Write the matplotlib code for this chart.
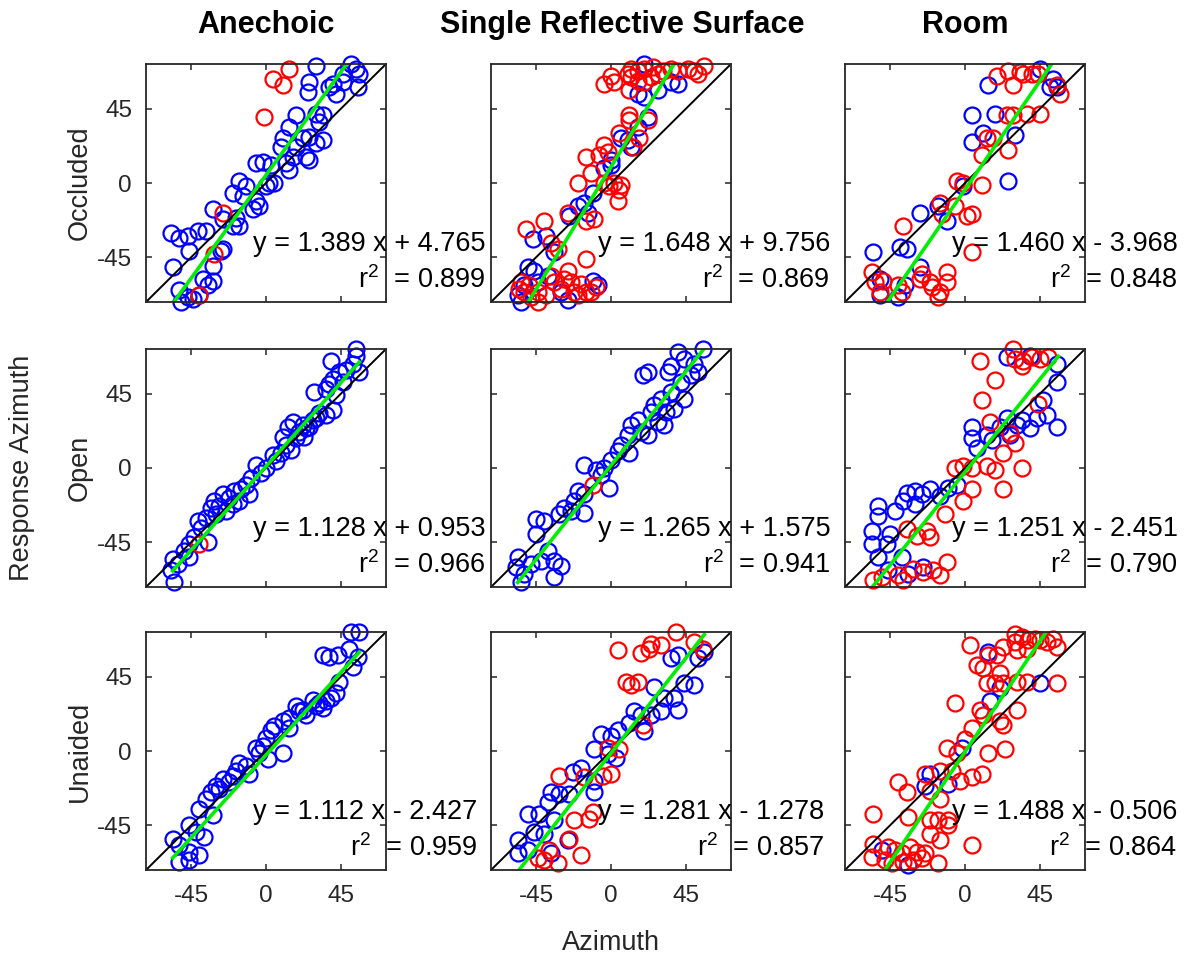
import numpy as np
import matplotlib
matplotlib.use("Agg")
import matplotlib.pyplot as plt

plt.rcParams['font.family'] = ['Liberation Sans', 'DejaVu Sans']
plt.rcParams['mathtext.fontset'] = 'custom'
plt.rcParams['mathtext.rm'] = 'Liberation Sans'
plt.rcParams['mathtext.it'] = 'Liberation Sans:italic'
plt.rcParams['axes.unicode_minus'] = False

# column / row names
rooms = ["Anechoic", "Single Reflective Surface", "Room"]
conditions = ["Occluded", "Open", "Unaided"]

# (target azimuth, response azimuth) pairs; blue and red trials per panel
anech_occl_blue = [(30, 71), (51, 72), (54, 69), (56, 66), (46, 66), (40, 60), (38, 58), (46, 61), (55, 58),
                   (26, 61), (25, 55), (42, 54), (18, 41), (30, 42), (34, 41), (32, 37), (14, 34), (10, 27),
                   (9, 22), (22, 27), (26, 28), (34, 26), (30, 24), (18, 22), (16, 16), (24, 16), (26, 14),
                   (12, 12), (14, 8), (-6, 12), (-2, 13), (3, 11), (5, 0), (0, -2), (2, 0), (-16, 1), (-20, -6),
                   (-12, -2), (-14, -8), (-6, -11), (-4, -14), (-8, -16), (-32, -16), (-18, -21), (-20, -26),
                   (-16, -26), (-26, -22), (-57, -30), (-52, -33), (-47, -32), (-46, -41), (-41, -29), (-36, -29),
                   (-27, -41), (-26, -40), (-56, -51), (-32, -50), (-38, -58), (-32, -59), (-35, -62), (-52, -65),
                   (-47, -69), (-51, -72), (-44, -70), (-40, -68)]
anech_occl_red = [(14, 69), (4, 63), (10, 59), (-1, 40), (-26, -18), (-31, -43), (-40, -68)]

refl_occl_blue = [(20, 72), (40, 60), (36, 61), (16, 54), (20, 52), (28, 56), (22, 40), (16, 34), (10, 26), (6, 27),
                  (12, 22), (0, 14), (-4, 9), (0, 11), (-11, -6), (-20, -14), (-16, -12), (-25, -20), (-14, -18),
                  (-39, -32), (-47, -34), (-34, -42), (-50, -51), (-46, -53), (-56, -68), (-54, -72), (-26, -71),
                  (-11, -59), (-8, -62), (-38, -56), (-52, -62), (-30, -66), (-44, -60)]
refl_occl_red = [(0, 65), (-4, 60), (2, 61), (10, 66), (12, 69), (16, 68), (20, 69), (25, 70), (28, 66), (16, 62),
                 (20, 61), (24, 64), (31, 68), (36, 69), (40, 68), (46, 69), (50, 68), (52, 66), (56, 71), (11, 56),
                 (12, 64), (11, 41), (11, 38), (22, 38), (5, 30), (17, 27), (13, 22), (-4, 23), (-2, 19), (-15, 16),
                 (-7, 17), (-12, 6), (-20, 0), (-4, 0), (2, 0), (6, -1), (5, -4), (-1, -2), (4, -11), (-10, -22),
                 (-15, -23), (-26, -18), (-51, -28), (-40, -23), (-36, -36), (-32, -40), (-15, -46), (-54, -60),
                 (-55, -64), (-49, -62), (-44, -66), (-39, -68), (-44, -72), (-34, -60), (-30, -64), (-26, -53),
                 (-24, -60), (-22, -66), (-18, -61), (-15, -66), (-20, -68), (-9, -63), (-36, -56), (-48, -69),
                 (-52, -66), (-28, -58), (-12, -66)]

room_occl_blue = [(45, 69), (53, 63), (55, 58), (51, 58), (14, 59), (4, 41), (18, 42), (11, 30), (30, 29), (4, 25),
                  (26, 1), (-1, -2), (-27, -18), (-16, -14), (-11, -23), (-39, -39), (-35, -40), (-55, -42),
                  (-27, -51), (-51, -58), (-51, -68), (-40, -69), (-36, -62)]
room_occl_red = [(19, 65), (26, 68), (35, 66), (40, 66), (44, 66), (29, 59), (33, 67), (55, 59), (57, 54), (45, 42),
                 (37, 42), (25, 41), (29, 41), (13, 27), (17, 27), (26, 20), (10, 17), (-5, 1), (-1, 0), (10, -1),
                 (-15, -12), (-6, -14), (1, -20), (4, -19), (-14, -19), (-37, -26), (4, -42), (-56, -54), (-54, -60),
                 (-49, -59), (-51, -66), (-40, -62), (-38, -66), (-27, -58), (-21, -60), (-20, -63), (-15, -66),
                 (-16, -69), (-11, -54), (-11, -60), (-26, -55)]

anech_open_blue = [(54, 72), (54, 68), (39, 65), (52, 63), (44, 58), (48, 59), (40, 54), (38, 51), (29, 46), (36, 48),
                   (56, 58), (40, 35), (36, 32), (32, 33), (28, 29), (16, 28), (13, 25), (22, 26), (26, 25), (20, 22),
                   (10, 19), (18, 18), (23, 19), (12, 14), (15, 11), (4, 8), (9, 9), (-6, 2), (-3, -3), (-9, -6),
                   (-12, -10), (-15, -13), (-19, -14), (-10, -16), (-16, -20), (-26, -16), (-22, -18), (-31, -20),
                   (-33, -24), (-28, -23), (-24, -26), (-30, -28), (-41, -32), (-39, -36), (-43, -42), (-35, -45),
                   (-46, -46), (-49, -50), (-56, -55), (-53, -58), (-46, -54), (-57, -62), (-55, -69),
                   (46, 52), (42, 44), (30, 30), (24, 24), (6, 4), (0, 0), (-20, -22), (-36, -30)]
anech_open_red = [(-40, -46)]

refl_open_blue = [(55, 72), (40, 70), (44, 66), (50, 63), (36, 62), (34, 58), (52, 58), (22, 58), (19, 56), (42, 52),
                  (44, 42), (36, 46), (30, 42), (38, 36), (33, 34), (24, 34), (28, 28), (32, 26), (16, 29), (12, 26),
                  (10, 20), (18, 22), (22, 20), (4, 10), (0, 5), (11, 9), (-16, 2), (-4, 0), (-9, -1), (-1, -12),
                  (-20, -14), (-16, -16), (-28, -24), (-31, -28), (-24, -26), (-16, -27), (-45, -31), (-40, -32),
                  (-45, -40), (-38, -50), (-34, -56), (-30, -59), (-56, -54), (-57, -60), (-52, -64), (-54, -69),
                  (-34, -66), (-42, -56), (48, 56), (26, 38), (6, 14), (-6, -4), (-22, -20), (-48, -58)]
refl_open_red = [(-11, -10)]

room_open_blue = [(25, 67), (39, 68), (55, 63), (55, 52), (47, 41), (49, 32), (55, 25), (39, 24), (43, 30), (34, 29),
                  (31, 26), (25, 30), (21, 25), (27, 20), (13, 20), (16, 17), (4, 25), (4, 18), (7, 12), (-5, -10),
                  (-21, -13), (-26, -16), (-35, -15), (-37, -20), (-30, -22), (-15, -17), (-42, -26), (-52, -23),
                  (-52, -29), (-56, -38), (-45, -40), (-56, -46), (-47, -46), (-52, -54), (-38, -54), (-25, -60),
                  (-46, -62), (-34, -64), (-10, -12), (-30, -14)]
room_open_red = [(29, 72), (30, 66), (35, 65), (40, 67), (45, 66), (50, 67), (34, 62), (9, 65), (18, 53), (10, 41),
                 (44, 39), (15, 28), (27, 21), (23, 9), (30, 15), (-6, 0), (-1, 1), (4, 0), (13, 1), (18, -1), (34, 0),
                 (23, -13), (4, -13), (-1, -20), (-12, -28), (-23, -38), (-21, -42), (-35, -37), (-29, -41),
                 (-55, -68), (-50, -66), (-40, -65), (-37, -68), (-31, -61), (-25, -63), (-19, -62), (-15, -65),
                 (-11, -57)]

anech_unaid_blue = [(51, 72), (56, 72), (34, 58), (38, 57), (43, 58), (50, 62), (55, 57), (52, 51), (44, 42), (42, 35),
                    (39, 32), (32, 29), (34, 26), (28, 31), (22, 25), (18, 27), (14, 20), (10, 18), (5, 15), (3, 13),
                    (14, 14), (10, -1), (0, 8), (-6, 2), (-4, -1), (1, -5), (-16, -7), (-18, -12), (-10, -14),
                    (-26, -17), (-22, -19), (-30, -21), (-33, -25), (-36, -29), (-40, -35), (-32, -39), (-46, -45),
                    (-42, -49), (-37, -52), (-56, -53), (-52, -57), (-46, -61), (-40, -63), (-52, -67), (-46, -66),
                    (20, 24), (24, 22), (30, 27), (36, 30), (-2, 3), (-12, -9), (-20, -15), (-28, -23)]
anech_unaid_red = []

refl_unaid_blue = [(56, 60), (52, 56), (40, 58), (36, 56), (44, 41), (50, 40), (26, 39), (38, 32), (32, 32), (40, 25),
                   (30, 24), (24, 22), (18, 22), (14, 24), (11, 17), (4, 13), (0, 9), (-6, 10), (20, 12), (-10, 1),
                   (-2, -2), (3, -4), (-18, -10), (-23, -13), (-10, -18), (-36, -25), (-31, -26), (-25, -26),
                   (-10, -25), (-38, -31), (-50, -38), (-43, -38), (-34, -42), (-46, -49), (-40, -50), (-56, -54),
                   (-56, -62), (-50, -60), (-26, -54), (-36, -62)]
refl_unaid_red = [(39, 72), (4, 61), (18, 59), (23, 62), (30, 64), (24, 65), (50, 66), (55, 62), (9, 42), (12, 40),
                  (16, 42), (19, 16), (-2, 2), (5, 1), (-16, -16), (-31, -15), (-5, -15), (0, -14), (-11, -37),
                  (-13, -41), (-22, -42), (-25, -53), (-37, -60), (-40, -66), (-32, -68), (-18, -63), (-44, -65)]

room_unaid_blue = [(14, 60), (45, 41), (21, 38), (15, 30), (-2, 2), (-21, -14), (-24, -21), (-10, -20), (-50, -60),
                   (-34, -69)]
room_unaid_red = [(30, 71), (34, 69), (30, 66), (38, 67), (42, 68), (45, 67), (49, 66), (53, 68), (55, 63), (31, 61),
                  (37, 62), (23, 63), (19, 58), (3, 64), (14, 58), (7, 52), (11, 50), (21, 47), (18, 41), (13, 41),
                  (23, 41), (31, 42), (37, 42), (55, 41), (-6, 29), (9, 25), (11, 22), (31, 25), (4, 14), (23, 16),
                  (21, 18), (0, 7), (-11, 2), (-5, -1), (14, -1), (24, 1), (-15, -12), (-24, -14), (-8, -12),
                  (-3, -18), (10, -14), (4, -16), (-21, -24), (-15, -29), (-40, -19), (-35, -25), (-34, -40),
                  (-55, -38), (-21, -42), (-16, -42), (-10, -42), (-10, -45), (-21, -50), (-15, -54), (4, -57),
                  (-55, -56), (-56, -64), (-46, -58), (-42, -60), (-38, -62), (-33, -58), (-29, -61), (-24, -62),
                  (-48, -66), (-44, -68), (-37, -67), (-31, -66), (-26, -65), (-16, -68)]

blue_sets = [[anech_occl_blue, refl_occl_blue, room_occl_blue],
             [anech_open_blue, refl_open_blue, room_open_blue],
             [anech_unaid_blue, refl_unaid_blue, room_unaid_blue]]
red_sets = [[anech_occl_red, refl_occl_red, room_occl_red],
            [anech_open_red, refl_open_red, room_open_red],
            [anech_unaid_red, refl_unaid_red, room_unaid_red]]

# linear fit results
slopes = [[1.389, 1.648, 1.460], [1.128, 1.265, 1.251], [1.112, 1.281, 1.488]]
intercepts = [[4.765, 9.756, -3.968], [0.953, 1.575, -2.451], [-2.427, -1.278, -0.506]]
r_squared = [[0.899, 0.869, 0.848], [0.966, 0.941, 0.790], [0.959, 0.857, 0.864]]
fit_range = [-56, 56]

ticks = [-45, 0, 45]
lim = 72

W, H = 1185, 961
fig = plt.figure(figsize=(W / 100, H / 100), dpi=100)

col_left = [146, 491, 845]
row_top = [64, 349, 632]
ax_w, ax_h = 240, 238
title_x = [266, 622, 965]
axis_col = '#262626'

for r in range(3):
    for c in range(3):
        ax = fig.add_axes([col_left[c] / W, 1 - (row_top[r] + ax_h) / H, ax_w / W, ax_h / H])
        blue = np.array(blue_sets[r][c]).reshape(-1, 2)
        red = np.array(red_sets[r][c]).reshape(-1, 2)
        ax.plot(blue[:, 0], blue[:, 1], 'o', mfc='none', mec='#0000ff', ms=11.5, mew=1.6, clip_on=False)
        if len(red):
            ax.plot(red[:, 0], red[:, 1], 'o', mfc='none', mec='#ff0000', ms=11.5, mew=1.6, clip_on=False)
        ax.plot([-lim, lim], [-lim, lim], color='k', lw=1.4)
        fx = np.array(fit_range)
        ax.plot(fx, slopes[r][c] * fx + intercepts[r][c], color='#00ee00', lw=2.6)
        ax.set_xlim(-lim, lim)
        ax.set_ylim(-lim, lim)
        ax.set_xticks(ticks)
        ax.set_yticks(ticks)
        ax.tick_params(direction='in', top=True, right=True, length=4, width=1.1,
                       colors=axis_col, labelsize=17.5, pad=11)
        ax.tick_params(axis='y', pad=10)
        if c > 0:
            ax.set_yticklabels([])
        if r < 2:
            ax.set_xticklabels([])
        for sp in ax.spines.values():
            sp.set_linewidth(1.3)
            sp.set_color(axis_col)

        b = intercepts[r][c]
        sign = '+' if b >= 0 else '-'
        label = 'y = %.3f x %s %.3f\nr$^{2}$  = %.3f' % (slopes[r][c], sign, abs(b), r_squared[r][c])
        ax.text(-8, -48, label, ha='left', va='center', multialignment='right',
                fontsize=19.5, color='k', linespacing=1.4, clip_on=False, zorder=5)

        if r == 0:
            fig.text(title_x[c] / W, 1 - 25 / H, rooms[c], ha='center', va='center',
                     fontsize=22, fontweight='bold')
        if c == 0:
            fig.text(80 / W, 1 - (row_top[r] + ax_h / 2) / H, conditions[r], rotation=90,
                     ha='center', va='center', fontsize=19.5, color=axis_col)

fig.text(22 / W, 1 - 468 / H, 'Response Azimuth', rotation=90, ha='center', va='center',
         fontsize=19.5, color=axis_col)
fig.text(611 / W, 1 - 943 / H, 'Azimuth', ha='center', va='center', fontsize=19.5, color=axis_col)

fig.savefig('out.png', dpi=100)
